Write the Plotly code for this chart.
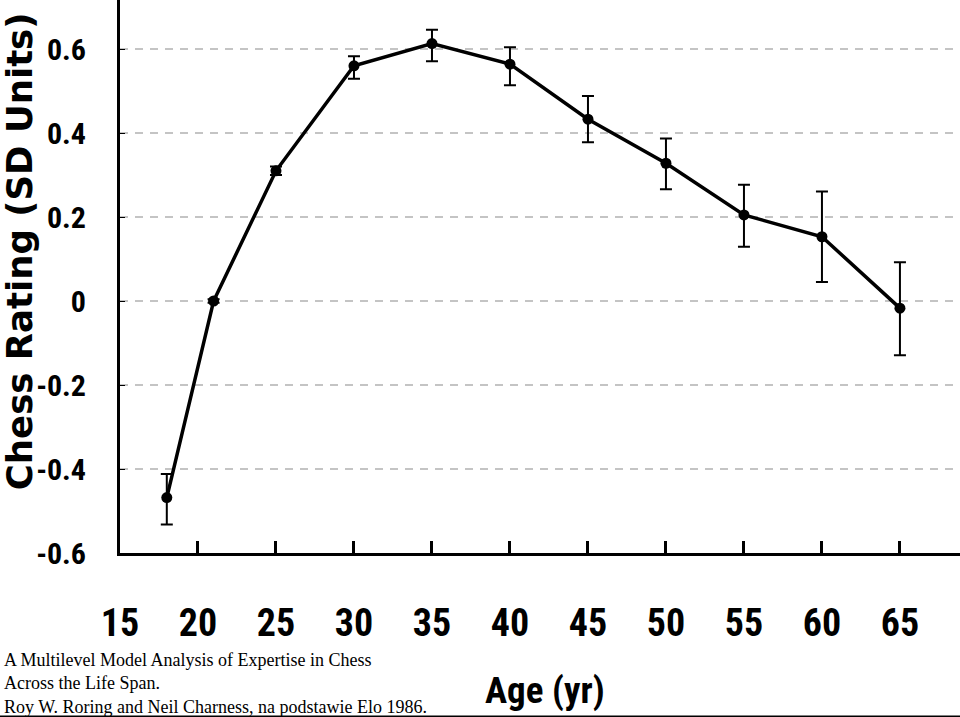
import plotly.graph_objects as go

age = [18, 21, 25, 30, 35, 40, 45, 50, 55, 60, 65]
rating = [-0.468, 0.0, 0.31, 0.560, 0.613, 0.564, 0.433, 0.328, 0.205, 0.153, -0.017]
err_plus = [0.056, 0.004, 0.010, 0.023, 0.033, 0.040, 0.055, 0.059, 0.072, 0.108, 0.109]
err_minus = [0.064, 0.004, 0.010, 0.031, 0.042, 0.050, 0.055, 0.062, 0.076, 0.108, 0.112]

x_ticks = [15, 20, 25, 30, 35, 40, 45, 50, 55, 60, 65]
y_ticks = [-0.6, -0.4, -0.2, 0, 0.2, 0.4, 0.6]
y_tick_text = ["-0.6", "-0.4", "-0.2", "0", "0.2", "0.4", "0.6"]

narrow = "Roboto Condensed, Liberation Sans Narrow, Arial Narrow, Liberation Sans, Arial, sans-serif"

fig = go.Figure()
fig.add_trace(go.Scatter(
    x=age, y=rating, mode="lines+markers",
    line=dict(color="black", width=3.5),
    marker=dict(color="black", size=11),
    error_y=dict(type="data", symmetric=False, array=err_plus, arrayminus=err_minus,
                 color="black", thickness=2, width=6),
    showlegend=False,
    cliponaxis=False,
))

fig.update_layout(
    width=960, height=717,
    margin=dict(l=120, r=0, t=0, b=164),
    paper_bgcolor="white", plot_bgcolor="white",
    xaxis=dict(
        range=[15, 68.85], tickmode="array", tickvals=x_ticks,
        ticks="inside", ticklen=12, tickwidth=3, tickcolor="black",
        showline=True, linecolor="black", linewidth=3,
        showgrid=False, zeroline=False,
        tickfont=dict(family=narrow, size=38, color="black", weight="bold"),
        ticklabelstandoff=34,
    ),
    yaxis=dict(
        range=[-0.6, 0.7167], tickmode="array", tickvals=y_ticks, ticktext=y_tick_text,
        ticks="inside", ticklen=5, tickwidth=1, tickcolor="black",
        showline=True, linecolor="black", linewidth=3,
        showgrid=True, gridcolor="#c4c4c4", gridwidth=2, griddash="8px,7px",
        zeroline=False,
        tickfont=dict(family=narrow, size=30, color="black", weight="bold"),
        ticklabelstandoff=25,
    ),
)

fig.add_annotation(
    text="Chess Rating (SD Units)", textangle=-90,
    xref="paper", yref="paper", x=-0.1195, y=0.545, xanchor="center", yanchor="middle",
    showarrow=False,
    font=dict(family="DejaVu Sans, Liberation Sans, Arial, sans-serif", size=35.5, color="black", weight="bold"),
)
fig.add_annotation(
    text="Age (yr)", xref="paper", yref="paper", x=0.506, y=-0.248,
    xanchor="center", yanchor="middle", showarrow=False,
    font=dict(family=narrow, size=37, color="black", weight="bold"),
)
fig.add_annotation(
    text="A Multilevel Model Analysis of Expertise in Chess<br>Across the Life Span.<br>Roy W. Roring and Neil Charness, na podstawie Elo 1986.",
    xref="paper", yref="paper", x=-0.1405, y=-0.172, xanchor="left", yanchor="top",
    align="left", showarrow=False,
    font=dict(family="Liberation Serif, Times New Roman, serif", size=18, color="black"),
)
fig.add_shape(
    type="line", xref="paper", yref="paper", x0=-0.15, x1=1.01, y0=-0.2965, y1=-0.2965,
    line=dict(color="black", width=3),
)

fig.write_html(
    "out.html",
    config={"displayModeBar": False},
    post_script="document.body.style.margin='0';document.body.style.overflow='hidden';",
)
